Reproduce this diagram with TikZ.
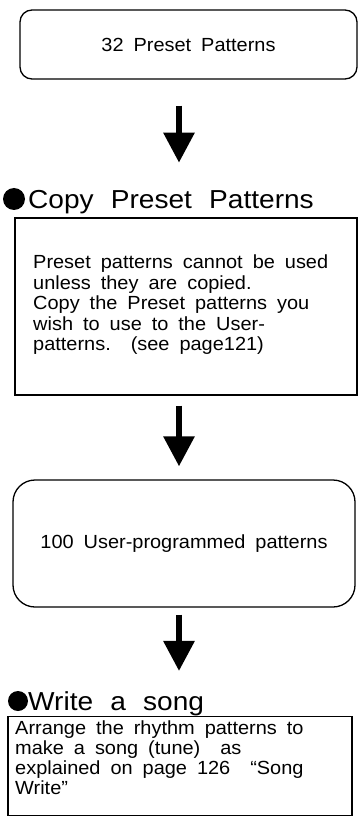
\documentclass[tikz,border=0pt]{standalone}
\usepackage{fontspec}
\setmainfont{Liberation Sans}[FakeStretch=1.05, WordSpace=1.8]
\newfontfamily\headfont{Liberation Sans}[FakeStretch=1.08, WordSpace=2.2]
\usetikzlibrary{arrows.meta, positioning}
\tikzset{
  bigarrow/.style   = {-{Triangle[length=30pt, width=30pt]}, line width=6pt, black},
  roundbox/.style   = {draw, line width=1.3pt, rounded corners=#1, inner sep=0pt},
  roundbox/.default = 12pt,
  squarebox/.style  = {draw, line width=1.3pt, inner sep=0pt},
  bodytxt/.style    = {font=\fontsize{19}{20.5}\selectfont, inner sep=0pt},
  bodyblock/.style  = {bodytxt, align=left, anchor=north west},
  headtxt/.style    = {font=\headfont\fontsize{26}{30}\selectfont, inner sep=0pt, anchor=base west},
  bulletdot/.style  = {circle, fill=black, inner sep=0pt, minimum size=#1},
  bulletdot/.default = 20pt,
}
\begin{document}
\begin{tikzpicture}[x=1pt,y=-1pt]
  \useasboundingbox (0,0) rectangle (358,826);
  \coordinate (spine) at (179,0);
  % pattern sources
  \node[roundbox=12pt, bodytxt, minimum width=337pt, minimum height=69pt] (preset) at (188.5,44.5) {32 Preset Patterns};
  \node[bulletdot=22pt] (copybul) at (14,199) {};
  \node[headtxt] (copyhd) at (28,208) {Copy Preset Patterns};
  \node[squarebox, minimum width=342pt, minimum height=177pt] (copybox) at (186,306.5) {};
  \node[bodyblock] (copytxt) at (33,255) {Preset patterns cannot be used\\
    unless they are copied.\\
    Copy the Preset patterns you\\
    wish to use to the User-\\
    patterns.\ \ (see page121)};
  \node[roundbox=22pt, bodytxt, minimum width=342pt, minimum height=127pt] (user) at (184,543.5) {100 User-programmed patterns};
  % song
  \node[bulletdot=20pt] (writebul) at (18,701) {};
  \node[headtxt] (writehd) at (28,710) {Write a song};
  \node[squarebox, minimum width=344pt, minimum height=99pt] (songbox) at (180,766) {};
  \node[bodyblock, font=\fontsize{19}{20}\selectfont] (songtxt) at (15,721) {Arrange the rhythm patterns to\\
    make a song (tune)\ \ as\\
    explained on page 126\ \ “Song\\
    Write”};
  \draw[bigarrow, shorten <=26pt, shorten >=27pt] (preset.south -| spine) -- (copyhd.north -| spine);
  \draw[bigarrow, shorten <=10pt, shorten >=13pt] (copybox.south -| spine) -- (user.north -| spine);
  \draw[bigarrow, shorten <=7pt, shorten >=20pt] (user.south -| spine) -- (writehd.north -| spine);
\end{tikzpicture}
\end{document}
